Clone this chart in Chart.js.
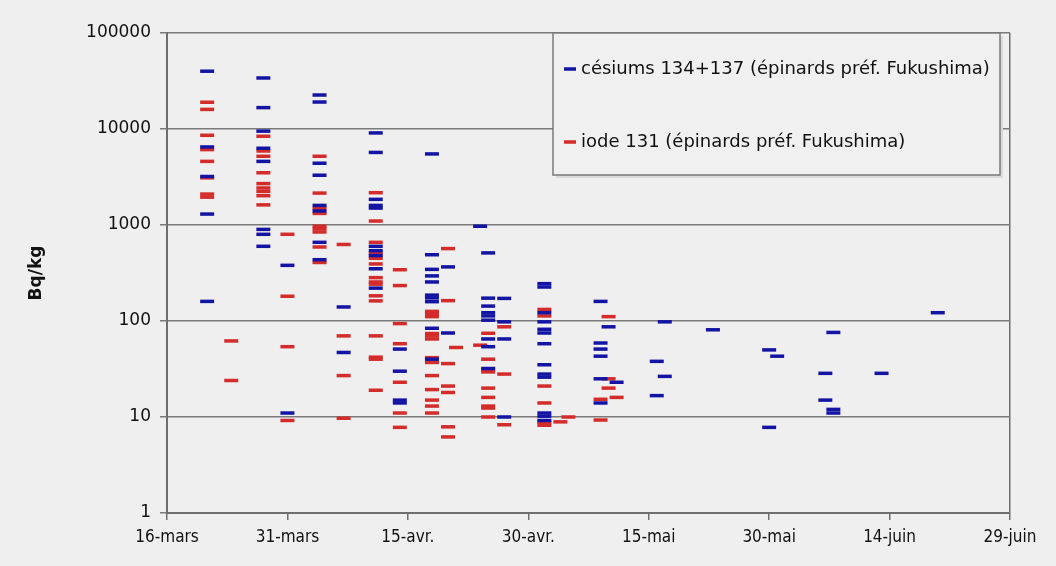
<!DOCTYPE html>
<html>
<head>
<meta charset="utf-8">
<script src="https://cdn.jsdelivr.net/npm/chart.js@4/dist/chart.umd.min.js"></script>
<style>
  html, body { margin: 0; padding: 0; background: #efefef; }
  #wrap { width: 1056px; height: 566px; }
</style>
</head>
<body>
<div id="wrap"><canvas id="chart" width="1056" height="566"></canvas></div>
<script>
// spinach samples, préf. Fukushima - days counted from 16 March 2011
const tickDays = [0, 15, 30, 45, 60, 75, 90, 105];
const tickLabels = ['16-mars', '31-mars', '15-avr.', '30-avr.', '15-mai', '30-mai', '14-juin', '29-juin'];
const yTicks = [1, 10, 100, 1000, 10000, 100000];

const sampleDays = [5, 8, 12, 15, 19, 22, 26, 29, 33, 35, 36, 39, 40, 42, 47, 49, 50, 54, 55, 56, 61, 62, 68, 75, 76, 82, 83, 89, 96];

// Bq/kg, one list per sample day
const cesiumValues = [
    [40000, 6500, 3200, 1300, 160],
    [],
    [34000, 16700, 9500, 6300, 4600, 900, 800, 600],
    [380, 11],
    [22600, 19100, 4400, 3300, 1600, 1400, 660, 435],
    [140, 47],
    [9100, 5700, 1850, 1600, 1500, 600, 540, 480, 350, 220],
    [51, 30, 15, 14],
    [5500, 490, 345, 295, 255, 186, 174, 159, 84, 40],
    [366, 75],
    [],
    [970],
    [512, 173, 143, 122, 113, 102, 65, 54, 32],
    [172, 98, 65, 10],
    [245, 226, 122, 98, 82, 75, 58, 35, 28, 26, 11, 10.2, 9.2],
    [],
    [],
    [160, 59, 51, 43, 25, 14],
    [87],
    [23],
    [38, 16.7],
    [98, 26.5],
    [81],
    [50, 7.8],
    [43],
    [28.5, 15],
    [76, 12, 11],
    [28.5],
    [122]
];

const iodeValues = [
    [19000, 16000, 8600, 6100, 4600, 3100, 2100, 1950],
    [62, 24],
    [8400, 5900, 5200, 3500, 2700, 2430, 2240, 2020, 1620],
    [800, 181, 54, 9.2],
    [5200, 2150, 1490, 1320, 970, 915, 846, 590, 407],
    [627, 70, 27, 9.7],
    [2170, 1100, 660, 507, 450, 393, 283, 255, 242, 183, 162, 70, 42, 40, 19],
    [342, 234, 94, 58, 23, 11, 7.8],
    [126, 119, 111, 74, 70, 65, 41.5, 37, 27, 19.3, 15, 13, 11],
    [568, 163, 36, 21, 18, 7.9, 6.2],
    [53],
    [56],
    [74.5, 40, 31, 29.5, 20, 16, 13, 12.4, 10],
    [87, 28, 8.3],
    [132, 113, 21, 14, 8.8, 8.2],
    [8.9],
    [10],
    [15.3, 9.3],
    [111, 25, 20],
    [16],
    [], [], [], [], [], [], [], [], []
];

const blue = '#1414a4';
const red = '#d42b2b';

function toPoints(lists) {
    const pts = [];
    lists.forEach((vals, i) => {
        vals.forEach(v => pts.push({ x: sampleDays[i], y: v }));
    });
    return pts;
}

// boxed legend in the top right corner of the plot
const legendBox = {
    id: 'legendBox',
    afterDraw(chart) {
        const ctx = chart.ctx;
        const x = 553, y = 33, w = 447, h = 142;
        ctx.save();
        ctx.fillStyle = '#dadada';
        ctx.fillRect(x + 3, y + 3, w, h);
        ctx.fillStyle = '#f0f0f0';
        ctx.fillRect(x, y, w, h);
        ctx.strokeStyle = '#7a7a7a';
        ctx.lineWidth = 1.5;
        ctx.strokeRect(x, y, w, h);

        const rows = [69, 142];
        ctx.font = '18px "DejaVu Sans"';
        ctx.textBaseline = 'middle';
        chart.data.datasets.forEach((ds, i) => {
            ctx.strokeStyle = ds.borderColor;
            ctx.lineWidth = 3.5;
            ctx.beginPath();
            ctx.moveTo(564, rows[i]);
            ctx.lineTo(576, rows[i]);
            ctx.stroke();
            ctx.fillStyle = '#111';
            ctx.fillText(ds.label, 581, rows[i]);
        });
        ctx.restore();
    }
};

const ctx = document.getElementById('chart').getContext('2d');
const chart = new Chart(ctx, {
    type: 'scatter',
    data: {
        datasets: [
            {
                label: 'césiums 134+137 (épinards préf. Fukushima)',
                data: toPoints(cesiumValues),
                borderColor: blue,
                backgroundColor: blue,
                pointStyle: 'line',
                pointRadius: 7,
                pointHoverRadius: 7,
                borderWidth: 3.5
            },
            {
                label: 'iode 131 (épinards préf. Fukushima)',
                data: toPoints(iodeValues),
                borderColor: red,
                backgroundColor: red,
                pointStyle: 'line',
                pointRadius: 7,
                pointHoverRadius: 7,
                borderWidth: 3.5
            }
        ]
    },
    options: {
        responsive: false,
        animation: false,
        layout: { padding: { left: 0, right: 46, top: 33, bottom: 0 } },
        plugins: {
            legend: { display: false },
            tooltip: { enabled: false }
        },
        scales: {
            x: {
                type: 'linear',
                min: 0,
                max: 105,
                afterBuildTicks: scale => { scale.ticks = tickDays.map(d => ({ value: d })); },
                afterFit: scale => { scale.height = 53; },
                ticks: {
                    callback: (value, index) => tickLabels[index],
                    font: { family: 'DejaVu Sans Condensed', size: 17 },
                    color: '#111',
                    padding: 7,
                    maxRotation: 0
                },
                grid: {
                    color: c => (c.tick && c.tick.value === 105 ? '#6e6e6e' : 'transparent'),
                    tickColor: '#6e6e6e',
                    lineWidth: 1.5,
                    tickLength: 7
                },
                border: { color: '#6e6e6e', width: 2 }
            },
            y: {
                type: 'logarithmic',
                min: 1,
                max: 100000,
                afterBuildTicks: scale => { scale.ticks = yTicks.map(v => ({ value: v })); },
                afterFit: scale => { scale.width = 167; },
                ticks: {
                    callback: value => String(value),
                    font: { family: 'DejaVu Sans', size: 17 },
                    color: '#111',
                    padding: 9
                },
                grid: {
                    color: '#7a7a7a',
                    lineWidth: 1.5,
                    tickLength: 7
                },
                border: { color: '#6e6e6e', width: 2 },
                title: {
                    display: true,
                    text: 'Bq/kg',
                    font: { family: 'DejaVu Sans', size: 17, weight: 'bold' },
                    color: '#111',
                    padding: { top: 26, bottom: 0 }
                }
            }
        }
    },
    plugins: [legendBox]
});
</script>
</body>
</html>
